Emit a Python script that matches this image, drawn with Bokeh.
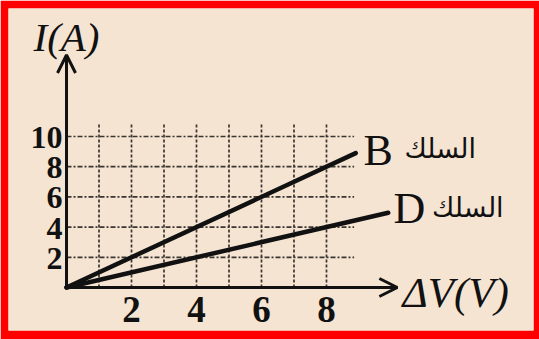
from bokeh.plotting import figure
from bokeh.models import Range1d, Arrow, OpenHead, ColumnDataSource
from bokeh.core.properties import value
from bokeh.embed import file_html
from bokeh.resources import INLINE

# Current (A) against potential difference (V) for two wires
wire_b_v = [0, 8.9]
wire_b_i = [0, 8.9]
wire_d_v = [0, 9.9]
wire_d_i = [0, 4.95]

x_ticks = [2, 4, 6, 8]
y_ticks = [2, 4, 6, 8, 10]
x_grid = [1, 2, 3, 4, 5, 6, 7, 8]
y_grid = [2, 4, 6, 8, 10]

wire_word = "السلك"

BG = "#F5E4D2"
INK = "#111111"
GRID = "#3a3530"

p = figure(width=539, height=339,
           x_range=Range1d(-1.785, 14.37), y_range=Range1d(-2.85, 18.48),
           output_backend="svg", toolbar_location=None,
           x_axis_location=None, y_axis_location=None,
           min_border_left=8, min_border_right=6,
           min_border_top=8, min_border_bottom=9,
           border_fill_color="#FF0000", background_fill_color=BG,
           outline_line_color=None)
p.xgrid.visible = False
p.ygrid.visible = False

# dashed grid
p.segment(x0=x_grid, y0=[0] * len(x_grid), x1=x_grid, y1=[10.8] * len(x_grid),
          line_color=GRID, line_width=1.7, line_dash="3 2")
p.segment(x0=[0] * len(y_grid), y0=y_grid, x1=[8.85] * len(y_grid), y1=y_grid,
          line_color=GRID, line_width=1.7, line_dash="5 2 2 2")

# axes with open arrow heads
p.add_layout(Arrow(end=OpenHead(size=18, line_width=3, line_color=INK),
                   x_start=0, y_start=0, x_end=0, y_end=15.4,
                   line_width=3, line_color=INK))
p.add_layout(Arrow(end=OpenHead(size=18, line_width=3, line_color=INK),
                   x_start=0, y_start=0, x_end=10.18, y_end=0,
                   line_width=3, line_color=INK))

# the two wires
p.line(wire_b_v, wire_b_i, line_color=INK, line_width=4.5, line_cap="round")
p.line(wire_d_v, wire_d_i, line_color=INK, line_width=4.5, line_cap="round")

serif = value("Liberation Serif")

# tick labels
xt = ColumnDataSource(dict(x=x_ticks, y=[0] * len(x_ticks),
                           t=[str(v) for v in x_ticks]))
p.text(x="x", y="y", text="t", source=xt, text_font=serif,
       text_font_style="bold", text_font_size="37px", text_color=INK,
       text_align="center", text_baseline="middle", y_offset=22)

yt = ColumnDataSource(dict(x=[0] * len(y_ticks), y=y_ticks,
                           t=[str(v) for v in y_ticks]))
p.text(x="x", y="y", text="t", source=yt, text_font=serif,
       text_font_style="bold", text_font_size="32px", text_color=INK,
       text_align="right", text_baseline="middle", x_offset=-4, y_offset=1)

# axis titles
p.text(x=[0], y=[16.6], text=["I(A)"], text_font=serif,
       text_font_style="italic", text_font_size="41px", text_color=INK,
       text_align="center", text_baseline="middle")
p.text(x=[10.34], y=[0], text=["ΔV(V)"], text_font=serif,
       text_font_style="italic", text_font_size="43px", text_color=INK,
       text_align="left", text_baseline="middle", y_offset=5)

# wire labels
p.text(x=[9.14, 10.06], y=[9.07, 5.23], text=["B", "D"], text_font=serif,
       text_font_size="44px", text_color=INK,
       text_align="left", text_baseline="middle")
p.text(x=[10.4, 11.25], y=[9.2, 5.3], text=[wire_word, wire_word],
       text_font=value("DejaVu Sans"), text_font_size="27px", text_color=INK,
       text_align="left", text_baseline="middle")

open("out.html", "w").write(file_html(p, INLINE))
